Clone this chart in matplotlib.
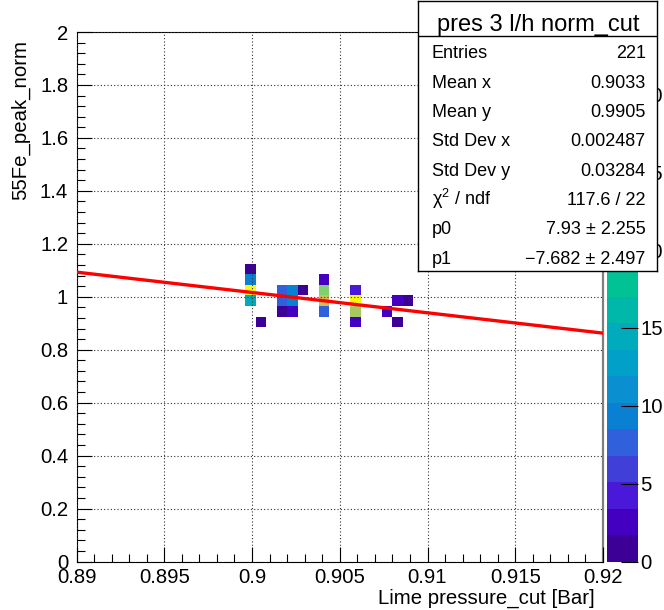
import numpy as np
import matplotlib
matplotlib.use('Agg')
import matplotlib.pyplot as plt
from matplotlib.colors import ListedColormap, BoundaryNorm
from matplotlib.ticker import MultipleLocator, FuncFormatter

plt.rcParams['font.family'] = 'Liberation Sans'
plt.rcParams['mathtext.fontset'] = 'custom'
plt.rcParams['mathtext.rm'] = 'Liberation Sans'
plt.rcParams['mathtext.it'] = 'Liberation Sans:italic'

# Filled cells of the 2D histogram: bin centre in pressure, bin centre in peak, entries
cell_x = [0.8999, 0.8999, 0.8999, 0.8999, 0.9005,
          0.9017, 0.9017, 0.9017, 0.9023, 0.9023, 0.9023, 0.9029,
          0.9041, 0.9041, 0.9041, 0.9041,
          0.9059, 0.9059, 0.9059, 0.9059,
          0.9077, 0.9083, 0.9083, 0.9089]
cell_y = [1.105, 1.065, 1.025, 0.985, 0.905,
          1.025, 0.985, 0.945, 1.025, 0.985, 0.945, 1.025,
          1.065, 1.025, 0.985, 0.945,
          1.025, 0.985, 0.945, 0.905,
          0.945, 0.985, 0.905, 0.985]
cell_n = [1, 10, 34, 14, 1,
          7, 7, 1, 9, 9, 2, 1,
          2, 21, 27, 7,
          4, 33, 23, 2,
          2, 2, 1, 1]

# histogram binning
x_edges = 0.8996 + 0.0006 * np.arange(17)
y_edges = 0.885 + 0.04 * np.arange(7)

# linear fit result
p0 = 7.93
p1 = -7.682

title = "pres 3 l/h norm_cut"
stat_names = ["Entries", "Mean x", "Mean y", "Std Dev x", "Std Dev y",
              "\u03c7$^{2}$ / ndf", "p0", "p1"]
stat_values = ["221", "0.9033", "0.9905", "0.002487", "0.03284",
               "117.6 / 22", "7.93 \u00b1 2.255", "\u22127.682 \u00b1 2.497"]

# 20-level palette
palette = ['#3c0096', '#4400c0', '#4a18d8', '#4040d8', '#3060dc',
           '#0a80d2', '#0a8fd0', '#00a0c8', '#00acbc', '#00b8aa',
           '#00c294', '#40c880', '#80d070', '#a8c860', '#bcc458',
           '#d0c050', '#e0c048', '#f0c838', '#f8e020', '#f8f810']
cmap = ListedColormap(palette)
cmap.set_over(palette[-1])
levels = np.linspace(0, 34, 21)
norm = BoundaryNorm(levels, cmap.N)

W, H = 664, 610


def box(l, t, r, b):
    return [l / W, 1 - b / H, (r - l) / W, (b - t) / H]


fig = plt.figure(figsize=(W / 100, H / 100), dpi=100)
ax = fig.add_axes(box(76.5, 32, 603, 561.5))

counts, _, _ = np.histogram2d(cell_x, cell_y, bins=[x_edges, y_edges], weights=cell_n)
mesh = ax.pcolormesh(x_edges, y_edges, np.ma.masked_equal(counts.T, 0),
                     cmap=cmap, norm=norm, zorder=1)

xfit = np.array([0.89, 0.92])
ax.plot(xfit, p0 + p1 * xfit, color='#ff0000', lw=2.4, zorder=3)

ax.set_xlim(0.89, 0.92)
ax.set_ylim(0, 2)
ax.xaxis.set_major_locator(MultipleLocator(0.005))
ax.xaxis.set_minor_locator(MultipleLocator(0.001))
ax.yaxis.set_major_locator(MultipleLocator(0.2))
ax.yaxis.set_minor_locator(MultipleLocator(0.04))
ax.xaxis.set_major_formatter(FuncFormatter(lambda v, pos: '%g' % round(v, 4)))
ax.yaxis.set_major_formatter(FuncFormatter(lambda v, pos: '%g' % round(v, 3)))
ax.tick_params(which='both', direction='in', top=False, right=False,
               width=0.8, labelsize=14.6)
ax.tick_params(which='major', length=11)
ax.tick_params(which='minor', length=5.5)
ax.tick_params(axis='y', pad=6)
ax.tick_params(axis='x', pad=5)
ax.grid(True, which='major', ls=(0, (1, 2)), color='#303030', lw=0.8)
ax.set_axisbelow(False)
for s in ax.spines.values():
    s.set_linewidth(0.8)
ax.spines['right'].set_color('#808080')
ax.spines['right'].set_linewidth(1.6)

fig.text(595 / W, 1 - 604 / H, "Lime pressure_cut [Bar]", fontsize=14.7,
         ha='right', va='baseline')
fig.text(21 / W, 1 - 40 / H, "55Fe_peak_norm", fontsize=14.7,
         rotation=90, ha='center', va='top')

# colour scale
cax = fig.add_axes(box(607.3, 32, 638.3, 561.5))
cb = fig.colorbar(mesh, cax=cax, ticks=range(0, 35, 5), extend='neither')
cb.outline.set_visible(False)
cb.ax.minorticks_off()
cax.tick_params(direction='in', length=12, width=0.8, color='black',
                labelsize=14.6, pad=1.5)

# statistics box
sax = fig.add_axes(box(418.3, 0.7, 657.3, 270.7), zorder=5)
sax.set_xlim(0, 239)
sax.set_ylim(270, 0)
sax.set_xticks([])
sax.set_yticks([])
for s in sax.spines.values():
    s.set_linewidth(1.0)
sax.axhline(35.3, color='black', lw=1.0)
sax.text(119.5, 30.0, title, fontsize=17, ha='center', va='baseline')
for i, (name, val) in enumerate(zip(stat_names, stat_values)):
    yb = 57.6 + 29.34 * i
    sax.text(13.4, yb, name, fontsize=13, ha='left', va='baseline')
    sax.text(227.4, yb, val, fontsize=13, ha='right', va='baseline')

fig.savefig('out.png', dpi=100)
